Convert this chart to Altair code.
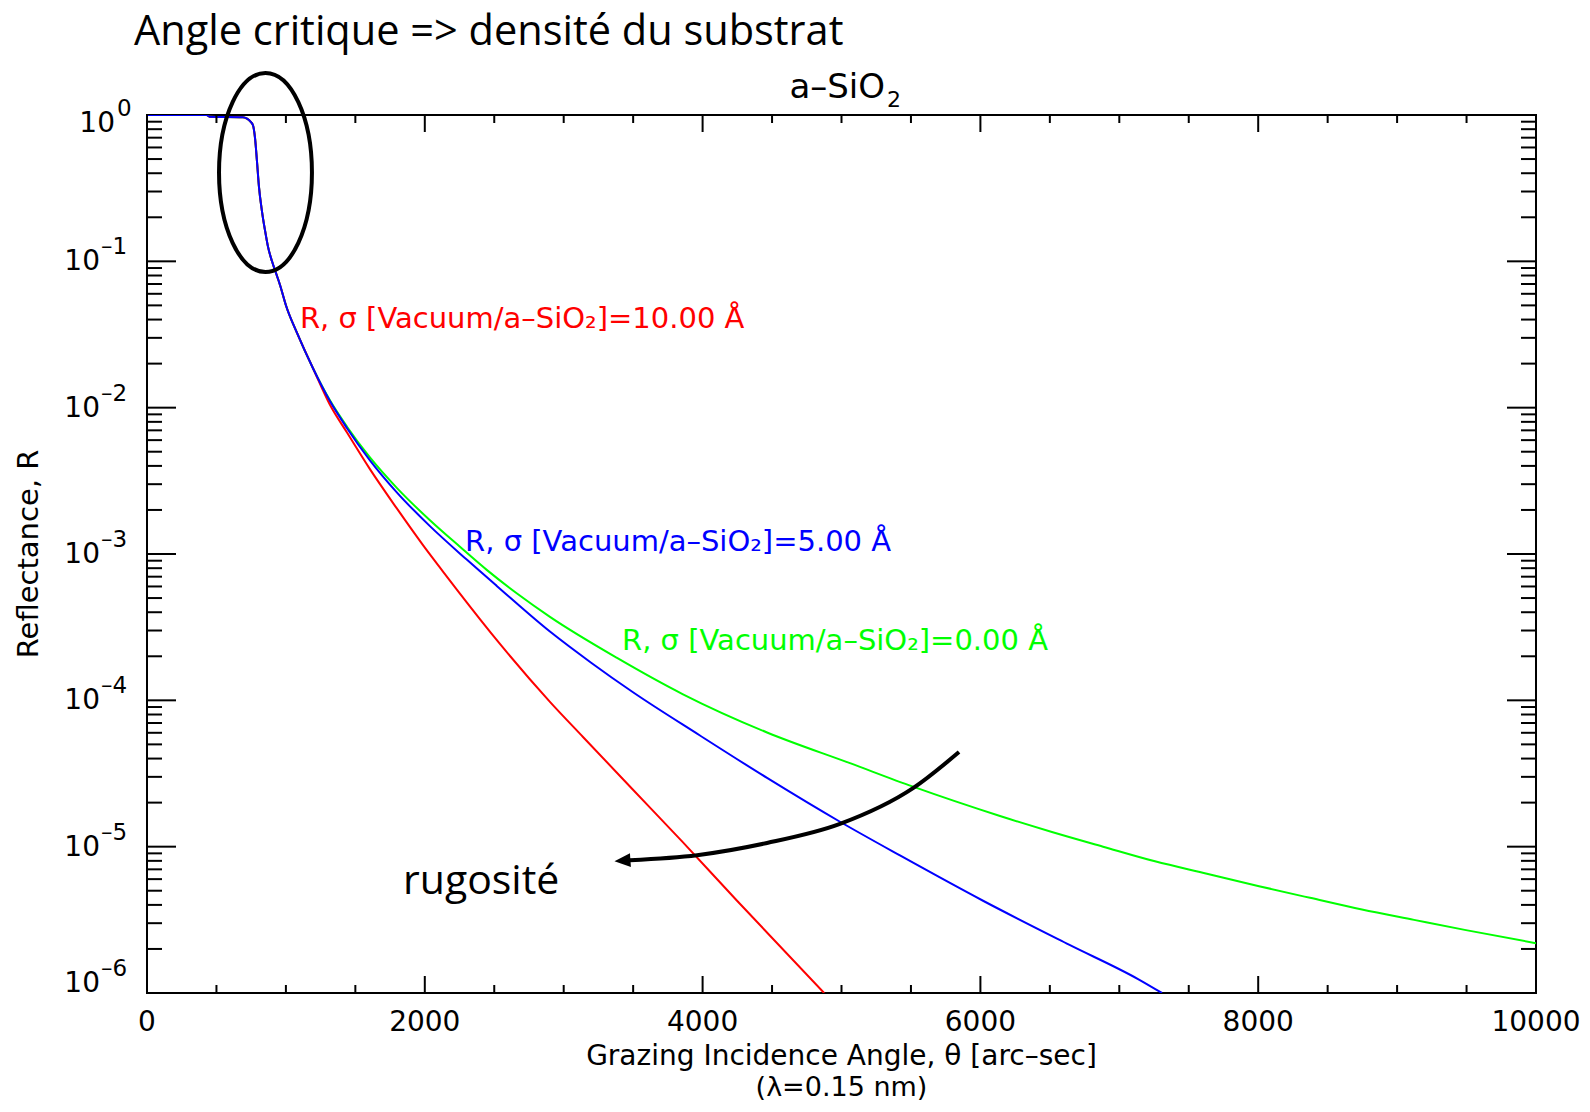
import altair as alt
import pandas as pd

# ---------------- data ----------------
# common part of the three curves (theta in arc-sec, reflectance R)
theta_common = [0, 430, 450, 690, 720, 745, 763, 778, 792, 806, 828, 850, 871, 900, 936, 957, 1000, 1080, 1195]
r_common = [1.0, 1.0, 0.973, 0.966, 0.944, 0.902, 0.851, 0.692, 0.479, 0.324, 0.219, 0.162, 0.126, 0.100,
            0.0794, 0.0692, 0.0501, 0.0324, 0.0186]

# sigma = 0.00 A (green)
theta_green = [1317, 1440, 1605, 1800, 2037, 2253, 2448, 2664, 2901, 3384, 3859, 4464, 5061, 5515, 6141,
               6515, 6883, 7257, 7631, 8006, 8373, 8747, 9122, 9496, 10000]
r_green = [1.122e-2, 7.41e-3, 4.57e-3, 2.82e-3, 1.70e-3, 1.12e-3, 7.76e-4, 5.37e-4, 3.72e-4, 1.95e-4,
           1.10e-4, 6.03e-5, 3.72e-5, 2.57e-5, 1.62e-5, 1.26e-5, 1.00e-5, 7.94e-6, 6.53e-6, 5.37e-6,
           4.47e-6, 3.72e-6, 3.16e-6, 2.69e-6, 2.19e-6]

# sigma = 5.00 A (blue)
theta_blue = [1317, 1440, 1605, 1800, 2037, 2304, 2520, 2901, 3200, 3499, 3981, 4464, 4989, 5421, 6019,
              6638, 7135, 7307]
r_blue = [1.109e-2, 7.24e-3, 4.37e-3, 2.63e-3, 1.55e-3, 9.12e-4, 6.03e-4, 2.95e-4, 1.80e-4, 1.135e-4,
          5.75e-5, 2.95e-5, 1.48e-5, 8.71e-6, 4.27e-6, 2.14e-6, 1.245e-6, 1.00e-6]

# sigma = 10.00 A (red)
theta_red = [1317, 1440, 1605, 1800, 1987, 2131, 2232, 2541, 2901, 3139, 3499, 3859, 4248, 4875]
r_red = [1.047e-2, 6.76e-3, 3.80e-3, 2.04e-3, 1.15e-3, 7.59e-4, 5.69e-4, 2.43e-4, 9.77e-5, 5.62e-5,
         2.45e-5, 1.07e-5, 4.27e-6, 1.00e-6]

# axis ticks and labels
x_major = [0, 2000, 4000, 6000, 8000, 10000]
x_tick_labels = ["0", "2000", "4000", "6000", "8000", "10000"]
x_minor = [500, 1000, 1500, 2500, 3000, 3500, 4500, 5000, 5500, 6500, 7000, 7500, 8500, 9000, 9500]
y_decades = [1.0, 1e-1, 1e-2, 1e-3, 1e-4, 1e-5, 1e-6]
y_exponents = ["0", "\u20131", "\u20132", "\u20133", "\u20134", "\u20135", "\u20136"]
y_minor = [m * d for d in [1e-6, 1e-5, 1e-4, 1e-3, 1e-2, 1e-1] for m in range(2, 10)]

# annotation positions (in data units)
labels_text = ["R, \u03c3 [Vacuum/a\u2013SiO\u2082]=10.00 \u00c5",
               "R, \u03c3 [Vacuum/a\u2013SiO\u2082]=5.00 \u00c5",
               "R, \u03c3 [Vacuum/a\u2013SiO\u2082]=0.00 \u00c5"]
labels_theta = [1101, 2290, 3420]
labels_r = [0.0403, 1.205e-3, 2.54e-4]
labels_color = ["#ff0000", "#0000ff", "#00ff00"]

ellipse_theta = [853]
ellipse_r = [0.4046]
arrow_theta = [5846, 5515, 4989, 4464, 3960, 3477]
arrow_r = [4.43e-5, 2.51e-5, 1.43e-5, 1.06e-5, 8.75e-6, 8.09e-6]
arrowhead_theta = [3423]
arrowhead_r = [8.02e-6]
rugo_theta = [1843]
rugo_r = [4.73e-6]

# ---------------- chart ----------------
W, H = 1389, 878
FONT = "DejaVu Sans"
ANN_FONT = "Open Sans"
xs = alt.Scale(domain=[0, 10000], nice=False, zero=False)
ys = alt.Scale(type="log", domain=[1e-6, 1], nice=False)


def X(f):
    return alt.X(f, type="quantitative", scale=xs, axis=None)


def Y(f):
    return alt.Y(f, type="quantitative", scale=ys, axis=None)


def curve(th, r, color):
    df = pd.DataFrame({"theta": theta_common + th, "R": r_common + r})
    return alt.Chart(df).mark_line(color=color, strokeWidth=2, clip=True,
                                   interpolate="monotone").encode(x=X("theta"), y=Y("R"))


def xticks(vals, length, top):
    df = pd.DataFrame({"v": vals})
    y0, y1 = (0, length) if top else (H, H - length)
    return alt.Chart(df).mark_rule(color="black", strokeWidth=2).encode(
        x=X("v"), y=alt.value(y0), y2=alt.value(y1))


def yticks(vals, length, right):
    df = pd.DataFrame({"v": vals})
    x0, x1 = (W, W - length) if right else (0, length)
    return alt.Chart(df).mark_rule(color="black", strokeWidth=2).encode(
        y=Y("v"), x=alt.value(x0), x2=alt.value(x1))


def fixed_text(txt, x, y, size, font=FONT, align="center", baseline="middle", angle=0):
    df = pd.DataFrame({"t": [txt]})
    return alt.Chart(df).mark_text(font=font, fontSize=size, align=align, baseline=baseline,
                                   angle=angle, color="black").encode(
        x=alt.value(x), y=alt.value(y), text="t:N")


layers = []
layers.append(curve(theta_green, r_green, "#00ff00"))
layers.append(curve(theta_red, r_red, "#ff0000"))
layers.append(curve(theta_blue, r_blue, "#0000ff"))

# inward ticks on all four sides
layers.append(xticks(x_major, 17, False))
layers.append(xticks(x_minor, 8, False))
layers.append(xticks(x_major, 17, True))
layers.append(xticks(x_minor, 8, True))
layers.append(yticks(y_decades[1:-1], 29, False))
layers.append(yticks(y_minor, 15, False))
layers.append(yticks(y_decades[1:-1], 29, True))
layers.append(yticks(y_minor, 15, True))

# x tick labels
xlab = pd.DataFrame({"v": x_major, "t": x_tick_labels})
layers.append(alt.Chart(xlab).mark_text(font=FONT, fontSize=28, baseline="middle", align="center",
                                        color="black").encode(x=X("v"), y=alt.value(H + 30), text="t:N"))

# y tick labels "10" with superscript exponent
ylab = pd.DataFrame({"v": y_decades, "base": ["10"] * len(y_decades), "exp": y_exponents,
                     "grp": ["top"] + ["mid"] * 5 + ["bot"]})
for grp, bx, ex, bdy in [("top", -32, -30, 9), ("mid", -47, -46, 1), ("bot", -47, -46, -9)]:
    src = alt.Chart(ylab).transform_filter(alt.datum.grp == grp)
    layers.append(src.mark_text(font=FONT, fontSize=28, align="right", baseline="middle", dy=bdy,
                                color="black").encode(y=Y("v"), x=alt.value(bx), text="base:N"))
    layers.append(src.mark_text(font=FONT, fontSize=23, align="left", baseline="middle", dy=bdy - 15,
                                color="black").encode(y=Y("v"), x=alt.value(ex), text="exp:N"))

# titles
layers.append(fixed_text("a\u2013SiO", 738, -17, 34, align="right", baseline="alphabetic"))
layers.append(fixed_text("2", 740, -8, 22, align="left", baseline="alphabetic"))
layers.append(fixed_text("Grazing Incidence Angle, \u03b8 [arc\u2013sec]", W / 2, 942, 28))
layers.append(fixed_text("(\u03bb=0.15 nm)", W / 2, 973, 27))
layers.append(fixed_text("Reflectance, R", -118, H / 2, 29, angle=270))
layers.append(fixed_text("Angle critique => densit\u00e9 du substrat", -13, -70, 41.5, font=ANN_FONT,
                         align="left", baseline="alphabetic"))

# curve labels
lab = pd.DataFrame({"theta": labels_theta, "R": labels_r, "t": labels_text, "c": labels_color})
layers.append(alt.Chart(lab).mark_text(font=FONT, fontSize=29, align="left", baseline="middle").encode(
    x=X("theta"), y=Y("R"), text="t:N", color=alt.Color("c:N", scale=None)))

# ellipse around the critical angle
ELLIPSE = ("M -0.467 0 C -0.467 -0.5523 -0.258 -1 0 -1 C 0.258 -1 0.467 -0.5523 0.467 0 "
           "C 0.467 0.5523 0.258 1 0 1 C -0.258 1 -0.467 0.5523 -0.467 0 Z")
ell = pd.DataFrame({"theta": ellipse_theta, "R": ellipse_r})
layers.append(alt.Chart(ell).mark_point(shape=ELLIPSE, size=39601, filled=False, color="black",
                                        strokeWidth=4, opacity=1).encode(x=X("theta"), y=Y("R")))

# roughness arrow
arr = pd.DataFrame({"theta": arrow_theta, "R": arrow_r})
layers.append(alt.Chart(arr).mark_line(color="black", strokeWidth=4, interpolate="monotone").encode(
    x=X("theta"), y=Y("R")))
HEAD = "M -1 0 L 1 -0.85 L 1 0.85 Z"
ah = pd.DataFrame({"theta": arrowhead_theta, "R": arrowhead_r})
layers.append(alt.Chart(ah).mark_point(shape=HEAD, size=256, filled=True, color="black", opacity=1,
                                       angle=356).encode(x=X("theta"), y=Y("R")))
rg = pd.DataFrame({"theta": rugo_theta, "R": rugo_r, "t": ["rugosit\u00e9"]})
layers.append(alt.Chart(rg).mark_text(font=ANN_FONT, fontSize=41, align="left", baseline="alphabetic",
                                      color="black").encode(x=X("theta"), y=Y("R"), text="t:N"))

chart = alt.layer(*layers).properties(
    width=W, height=H,
    autosize=alt.AutoSizeParams(type="none"),
    padding={"left": 139, "top": 107, "right": 46, "bottom": 111},
    background="white",
).configure_view(stroke="black", strokeWidth=2)

chart.save("out.html", embed_options={"renderer": "svg", "actions": False})
